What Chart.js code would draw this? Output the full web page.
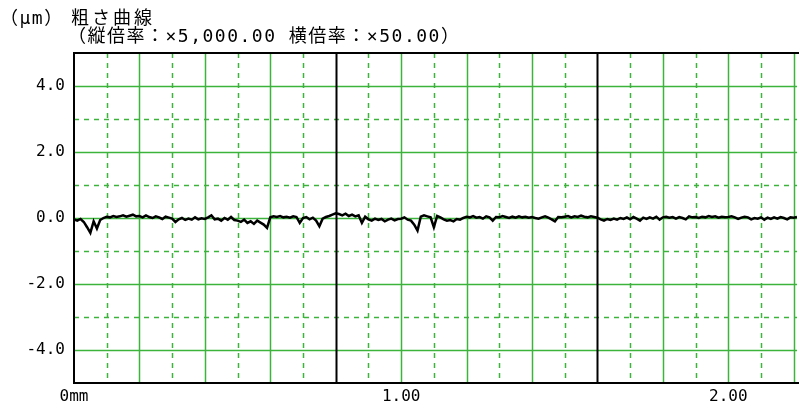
<!DOCTYPE html>
<html>
<head>
<meta charset="utf-8">
<script src="https://cdn.jsdelivr.net/npm/chart.js@4"></script>
<style>
  html, body { margin: 0; padding: 0; background: #fff; }
  #wrap { width: 801px; height: 406px; position: relative; }
</style>
</head>
<body>
<div id="wrap"><canvas id="myChart"></canvas></div>
<script>
// roughness profile, one value every 0.01 mm (μm)
let step = 0.01
let profile = [
  -0.04, -0.08, -0.03, -0.12, -0.28, -0.45, -0.10, -0.32, -0.06, 0.00,
  0.04, 0.02, 0.06, 0.03, 0.05, 0.08, 0.04, 0.07, 0.10, 0.05,
  0.06, 0.02, 0.08, 0.03, 0.00, 0.05, 0.02, -0.03, 0.04, 0.01,
  -0.02, -0.12, -0.04, 0.00, -0.06, -0.02, -0.05, 0.02, -0.04, -0.01,
  -0.03, 0.02, 0.08, -0.04, -0.02, -0.08, 0.00, -0.05, 0.03, -0.06,
  -0.08, -0.12, -0.05, -0.15, -0.10, -0.18, -0.08, -0.14, -0.20, -0.30,
  0.02, 0.05, 0.03, 0.06, 0.02, 0.04, 0.01, 0.05, 0.03, -0.15,
  0.00, 0.03, -0.04, 0.01, -0.08, -0.25, -0.02, 0.03, 0.06, 0.10,
  0.14, 0.12, 0.08, 0.13, 0.06, 0.10, 0.05, 0.08, -0.15, 0.04,
  -0.04, -0.08, -0.02, -0.06, -0.03, -0.10, -0.05, -0.02, -0.07, -0.03,
  -0.02, 0.02, -0.05, -0.08, -0.20, -0.38, 0.04, 0.08, 0.05, 0.02,
  -0.28, 0.06, 0.02, -0.04, -0.08, -0.06, -0.10, -0.03, -0.05, 0.00,
  0.04, 0.02, 0.06, 0.01, 0.03, -0.02, 0.05, 0.02, -0.08, 0.03,
  0.02, 0.06, 0.03, 0.00, 0.04, 0.01, 0.05, 0.02, 0.04, 0.01,
  0.03, 0.00, -0.02, 0.02, 0.05, 0.01, -0.04, -0.10, 0.03, 0.02,
  0.04, 0.06, 0.02, 0.05, 0.03, 0.07, 0.04, 0.02, 0.05, 0.03,
  0.01, -0.04, -0.08, -0.03, -0.06, -0.02, -0.05, 0.00, -0.03, 0.02,
  -0.04, 0.03, -0.02, -0.08, 0.01, -0.03, 0.02, -0.02, 0.04, -0.05,
  0.02, 0.04, 0.01, 0.03, -0.02, 0.03, 0.00, -0.04, 0.05, 0.02,
  0.03, 0.00, 0.04, 0.02, 0.06, 0.03, 0.05, 0.01, 0.04, 0.02,
  0.03, 0.05, 0.02, -0.03, 0.01, 0.04, 0.02, -0.04, 0.00, -0.02,
  0.02, -0.05, 0.01, -0.03, 0.02, -0.02, 0.03, 0.00, -0.04, 0.02,
  0.01, 0.03
]
let yLabels = [4, 2, 0, -2, -4]
let xLabels = { 0: '0mm', 10: '1.00', 20: '2.00' }
let unitText = '（μm）'
let titleLine1 = '粗さ曲線'
let titleLine2 = '（縦倍率：×5,000.00 横倍率：×50.00）'

let green = 'rgb(60,180,60)'
let fontMono = '"DejaVu Sans Mono", "Liberation Mono", "Noto Sans CJK JP", monospace'

// grid + frame + title
let gridPlugin = {
  id: 'roughGrid',
  beforeDatasetsDraw(chart) {
    let ctx = chart.ctx
    let a = chart.chartArea
    let xs = chart.scales.x
    let ys = chart.scales.y
    ctx.save()
    ctx.lineWidth = 1.5
    for (let v = -4; v <= 4; v++) {
      let py = Math.round(ys.getPixelForValue(v)) + 0.5
      ctx.strokeStyle = green
      ctx.setLineDash(v % 2 === 0 ? [] : [5, 5])
      ctx.beginPath(); ctx.moveTo(a.left, py); ctx.lineTo(a.right, py); ctx.stroke()
    }
    for (let t = 1; t <= 22; t++) {
      let px = Math.round(xs.getPixelForValue(t / 10)) + 0.5
      if (t % 8 === 0) { ctx.strokeStyle = '#000'; ctx.lineWidth = 2; ctx.setLineDash([]) }
      else { ctx.strokeStyle = green; ctx.lineWidth = 1.5; ctx.setLineDash(t % 2 === 0 ? [] : [5, 5]) }
      ctx.beginPath(); ctx.moveTo(px, a.top); ctx.lineTo(px, a.bottom); ctx.stroke()
    }
    ctx.setLineDash([])
    ctx.strokeStyle = '#000'
    ctx.lineWidth = 2
    ctx.beginPath()
    ctx.moveTo(a.right + 2, a.top); ctx.lineTo(a.left, a.top)
    ctx.lineTo(a.left, a.bottom); ctx.lineTo(a.right + 2, a.bottom)
    ctx.stroke()
    ctx.restore()
  },
  afterDraw(chart) {
    let ctx = chart.ctx
    ctx.save()
    ctx.fillStyle = '#000'
    ctx.textBaseline = 'alphabetic'
    ctx.font = '18px ' + fontMono
    ctx.letterSpacing = '1.5px'
    ctx.fillText(unitText, 0, 24)
    ctx.fillText(titleLine2, 68, 42)
    ctx.letterSpacing = '3px'
    ctx.fillText(titleLine1, 71, 24)
    ctx.restore()
  }
}

let myChart = new Chart(document.getElementById('myChart'), {
  type: 'line',
  data: {
    datasets: [{
      data: profile.map((y, i) => ({ x: i * step, y: y })),
      borderColor: '#000',
      borderWidth: 2.5,
      pointRadius: 0,
      tension: 0,
    }],
  },
  options: {
    responsive: true,
    maintainAspectRatio: false,
    animation: false,
    layout: { padding: { top: 53, left: 0, right: 0, bottom: 0 } },
    plugins: { legend: { display: false }, tooltip: { enabled: false } },
    scales: {
      x: {
        type: 'linear',
        min: 0,
        max: 2.21,
        grid: { display: false, drawTicks: false },
        border: { display: false },
        afterFit: s => { s.height = 23 },
        ticks: {
          stepSize: 0.1,
          autoSkip: false,
          maxRotation: 0,
          padding: 4,
          color: '#000',
          font: { family: fontMono, size: 16 },
          callback: v => xLabels[Math.round(v * 10)] || '',
        },
      },
      y: {
        min: -5,
        max: 5,
        grid: { display: false, drawTicks: false },
        border: { display: false },
        afterFit: s => { s.width = 74 },
        ticks: {
          stepSize: 1,
          padding: 9,
          color: '#000',
          font: { family: fontMono, size: 16 },
          callback: v => yLabels.includes(v) ? v.toFixed(1) : '',
        },
      },
    },
  },
  plugins: [gridPlugin],
})
</script>
</body>
</html>
